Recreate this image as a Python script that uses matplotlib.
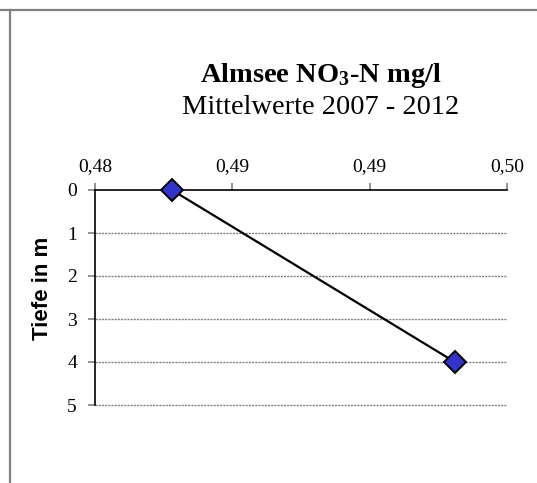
import matplotlib
matplotlib.use("Agg")
import matplotlib.pyplot as plt
from matplotlib.lines import Line2D

# values
werte = [0.4828, 0.4931]      # NO3-N mg/l
tiefe = [0, 4]                # Tiefe in m
xticks = [0.480, 0.485, 0.490, 0.495]
xticklabels = ["0,48", "0,49", "0,49", "0,50"]
yticks = [0, 1, 2, 3, 4, 5]

plt.rcParams['font.family'] = ['Liberation Serif', 'DejaVu Serif']
plt.rcParams['mathtext.default'] = 'regular'

W, H = 537, 483
fig = plt.figure(figsize=(W / 100, H / 100), dpi=100)

# outer frame lines (top and left only)
fig.add_artist(Line2D([0, 1], [1 - 10 / H, 1 - 10 / H], color='#808080', lw=1.6))
fig.add_artist(Line2D([10 / W, 10 / W], [0, 1 - 10 / H], color='#808080', lw=1.6))

ax = fig.add_axes([95 / W, (H - 405) / H, 412 / W, 215 / H])

ax.plot(werte, tiefe, color='black', lw=1.6, marker='D', markersize=11,
        markerfacecolor='#3333CC', markeredgecolor='black', markeredgewidth=1.4,
        zorder=5, clip_on=False)

ax.set_xlim(xticks[0], xticks[-1])
ax.set_ylim(5, 0)
ax.xaxis.tick_top()
ax.set_xticks(xticks)
ax.set_xticklabels(xticklabels)
ax.set_yticks(yticks)
ax.tick_params(axis='both', labelsize=14, color='#808080', length=5, width=1.2)
ax.tick_params(axis='x', pad=6)
ax.tick_params(axis='y', pad=8)

for y in yticks[1:]:
    ax.axhline(y, color='#808080', lw=1.0, ls=(0, (1.5, 0.8)), zorder=1, clip_on=False)

ax.spines['right'].set_visible(False)
ax.spines['bottom'].set_visible(False)
ax.spines['top'].set_color('black')
ax.spines['left'].set_color('black')
ax.spines['top'].set_linewidth(1.2)
ax.spines['left'].set_linewidth(1.2)

fig.text(321 / W, 1 - 82 / H, "Almsee NO$_3$-N mg/l", ha='center', va='baseline',
         fontsize=20.5, fontweight='bold')
fig.text(321 / W, 1 - 114 / H, "Mittelwerte 2007 - 2012", ha='center', va='baseline',
         fontsize=20.5)
fig.text(42 / W, 1 - 288 / H, "Tiefe in m", ha='center', va='center', rotation=90,
         fontsize=16, fontweight='bold', family=['Liberation Sans', 'DejaVu Sans'])

fig.savefig("out.png", dpi=100)
